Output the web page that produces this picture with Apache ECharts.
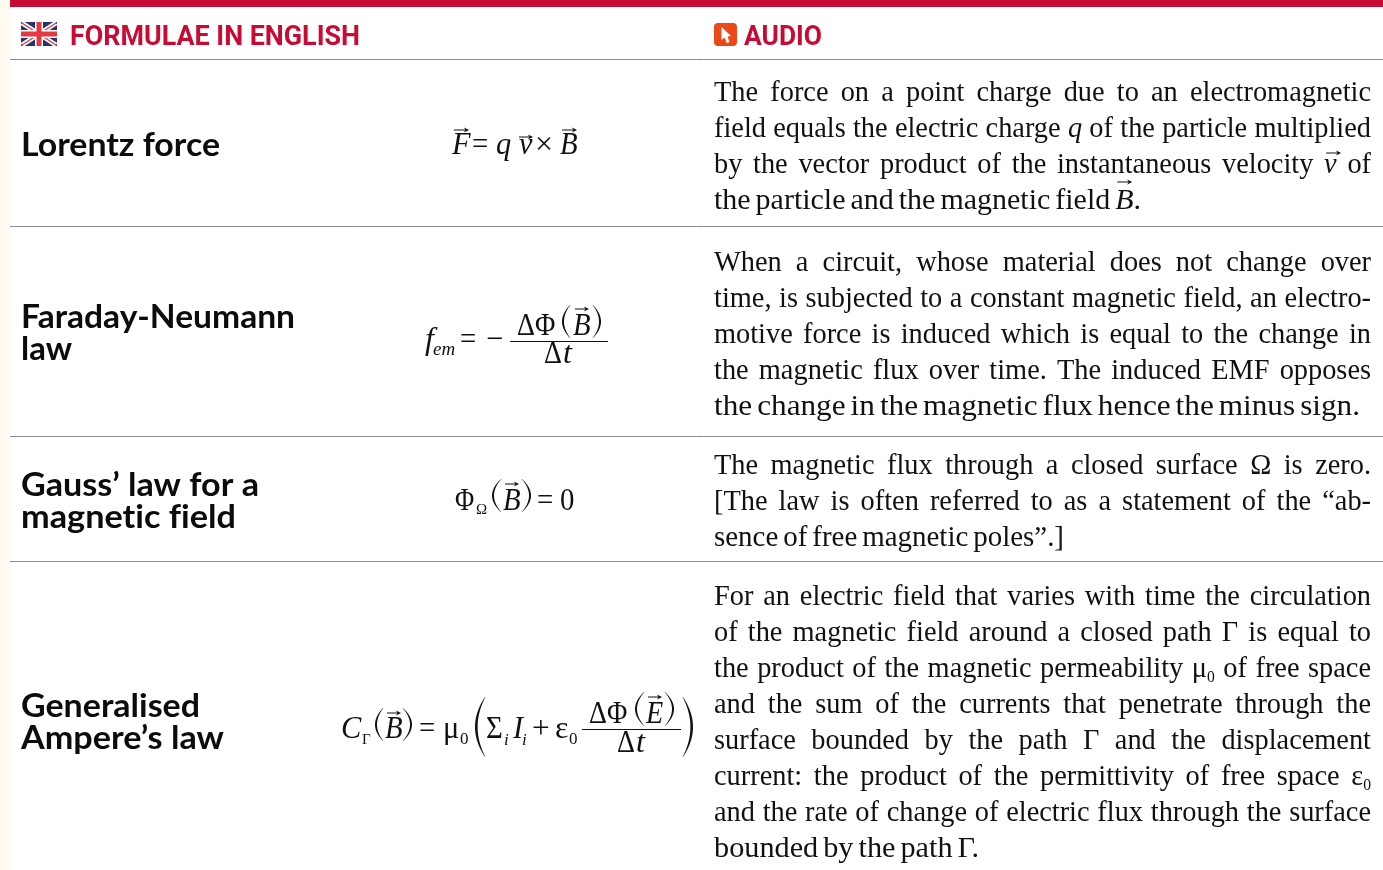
<!DOCTYPE html>
<html>
<head>
<meta charset="utf-8">
<script src="https://cdn.jsdelivr.net/npm/echarts@6/dist/echarts.min.js"></script>
<style>
  html, body { margin: 0; padding: 0; background: #fff; }
  #main { width: 1383px; height: 870px; }
</style>
</head>
<body>
<div id="main"></div>
<script>
// 表格文字
const headerLabels = ['FORMULAE IN ENGLISH', 'AUDIO']
const rowTitles = [
  ['Lorentz force'],
  ['Faraday-Neumann', 'law'],
  ['Gauss’ law for a', 'magnetic field'],
  ['Generalised', 'Ampere’s law']
]
// ^x^ 斜体带箭头, *x* 斜体, ~x~ 下标
const descriptions = [
  [
    'The force on a point charge due to an electromagnetic',
    'field equals the electric charge *q* of the particle multiplied',
    'by the vector product of the instantaneous velocity ^v^ of',
    'the particle and the magnetic field ^B^.'
  ],
  [
    'When a circuit, whose material does not change over',
    'time, is subjected to a constant magnetic field, an electro-',
    'motive force is induced which is equal to the change in',
    'the magnetic flux over time. The induced EMF opposes',
    'the change in the magnetic flux hence the minus sign.'
  ],
  [
    'The magnetic flux through a closed surface Ω is zero.',
    '[The law is often referred to as a statement of the “ab-',
    'sence of free magnetic poles”.]'
  ],
  [
    'For an electric field that varies with time the circulation',
    'of the magnetic field around a closed path Γ is equal to',
    'the product of the magnetic permeability μ~0~ of free space',
    'and the sum of the currents that penetrate through the',
    'surface bounded by the path Γ and the displacement',
    'current: the product of the permittivity of free space ε~0~',
    'and the rate of change of electric flux through the surface',
    'bounded by the path Γ.'
  ]
]

// 版面
const RED = '#c80b34'
const INK = '#111111'
const RULE = '#8c8c8c'
const SERIF = '"Liberation Serif"'
const TITLE_FONT = 'Lato'
const BODY_LEFT = 714
const BODY_RIGHT = 1371
const BODY_SIZE = 30
const ruleYs = [59.5, 226.5, 436.5, 561.5]
const titleBaselines = [[155], [327, 359], [495, 527], [716, 748]]
const titleRights = [[220], [295, 72], [259, 236], [200, 224]]
const bodyFirstBaseline = [101, 271, 474, 605]
const lastLineRights = [1141, 1360, 1064, 979]
const BASE_RATIO = { 'Liberation Serif': 0.27, Lato: 0.29, Roboto: 0.25 }

const measureCtx = document.createElement('canvas').getContext('2d')
const elements = []

function fontString(size, family, weight, italic) {
  return (italic ? 'italic ' : '') + (weight || 'normal') + ' ' + size + 'px ' + family
}
function textWidth(str, size, family, weight, italic) {
  measureCtx.font = fontString(size, family, weight, italic)
  return measureCtx.measureText(str).width
}
// 按基线放文字
function put(str, x, base, size, opt) {
  const o = opt || {}
  const family = o.family || SERIF
  const ratio = BASE_RATIO[family.replace(/"/g, '')] || 0.3
  elements.push({
    type: 'text',
    silent: true,
    x: x,
    y: base - size * ratio,
    scaleX: o.scaleX || 1,
    style: {
      text: str,
      x: 0,
      y: 0,
      fill: o.color || INK,
      fontSize: size,
      fontFamily: family,
      fontWeight: o.weight || 'normal',
      fontStyle: o.italic ? 'italic' : 'normal',
      align: 'left',
      verticalAlign: 'middle'
    }
  })
}
// 放到指定宽度
function putFit(str, x, right, base, size, opt) {
  const o = opt || {}
  const w = textWidth(str, size, o.family || SERIF, o.weight, o.italic)
  put(str, x, base, size, Object.assign({}, o, { scaleX: (right - x) / w }))
}
function rect(x, y, w, h, fill, r) {
  elements.push({ type: 'rect', silent: true, shape: { x: x, y: y, width: w, height: h, r: r || 0 }, style: { fill: fill } })
}
function line(x1, y1, x2, y2, color, width) {
  elements.push({ type: 'line', silent: true, shape: { x1: x1, y1: y1, x2: x2, y2: y2 }, style: { stroke: color, lineWidth: width } })
}
function poly(points, fill) {
  elements.push({ type: 'polygon', silent: true, shape: { points: points }, style: { fill: fill } })
}
function arrow(x, y, w) {
  line(x, y, x + w - 2, y, INK, 1)
  poly([[x + w, y], [x + w - 5, y - 2.6], [x + w - 3.5, y], [x + w - 5, y + 2.6]], INK)
}
// 新月形括号
function paren(xOuter, xInner, top, bottom, thick) {
  const pts = []
  const steps = 24
  const dir = xInner > xOuter ? 1 : -1
  for (let i = 0; i <= steps; i++) {
    const t = i / steps
    const bow = 4 * t * (1 - t)
    pts.push([xInner + (xOuter - xInner) * bow, top + (bottom - top) * t])
  }
  for (let i = steps; i >= 0; i--) {
    const t = i / steps
    const bow = 4 * t * (1 - t)
    pts.push([xInner + (xOuter - xInner) * bow + dir * (0.4 + thick * bow), top + (bottom - top) * t])
  }
  poly(pts, INK)
}

// 正文一行: 词距撑满到右边
function parseWord(word) {
  const runs = []
  const re = /\^(.+?)\^|\*(.+?)\*|~(.+?)~|([^\^*~]+)/g
  let m
  while ((m = re.exec(word))) {
    if (m[1]) runs.push({ text: m[1], italic: true, arrow: true })
    else if (m[2]) runs.push({ text: m[2], italic: true })
    else if (m[3]) runs.push({ text: m[3], sub: true })
    else runs.push({ text: m[4] })
  }
  return runs
}
function runWidth(run) {
  const size = run.sub ? BODY_SIZE * 0.55 : BODY_SIZE
  return textWidth(run.text, size, SERIF, 'normal', run.italic)
}
function bodyLine(str, base, right, isLast) {
  const words = str.split(' ').map(parseWord)
  const widths = words.map(runs => runs.reduce((s, r) => s + runWidth(r), 0))
  const total = widths.reduce((a, b) => a + b, 0)
  const span = right - BODY_LEFT
  const gaps = words.length - 1
  let k = 0.945
  let gap = (span - total * k) / gaps
  if (isLast) {
    gap = 5
    k = (span - gap * gaps) / total
  } else if (gap < 4.5) {
    gap = 4.5
    k = (span - gap * gaps) / total
  }
  let x = BODY_LEFT
  words.forEach(runs => {
    runs.forEach(run => {
      const size = run.sub ? BODY_SIZE * 0.55 : BODY_SIZE
      put(run.text, x, run.sub ? base + 5 : base, size, { italic: run.italic, scaleX: k })
      if (run.arrow) arrow(x + 2, base - 27 + (run.text === 'v' ? 7 : 0), 15)
      x += runWidth(run) * k
    })
    x += gap
  })
}

// 背景, 红条, 分隔线
rect(0, 0, 10, 870, '#fffbf0')
rect(10, 0, 1373, 7, RED)
ruleYs.forEach(y => line(10, y, 1383, y, RULE, 1))

// 英国旗
rect(21, 22, 36, 24, '#27346e')
line(22, 23, 56, 45, '#fff', 4.5)
line(56, 23, 22, 45, '#fff', 4.5)
line(22, 23, 56, 45, '#e5393f', 1.4)
line(56, 23, 22, 45, '#e5393f', 1.4)
rect(21, 30, 36, 8, '#fff')
rect(35, 22, 8, 24, '#fff')
rect(21, 31.5, 36, 5, '#e5393f')
rect(36.5, 22, 5, 24, '#e5393f')

// 表头
putFit(headerLabels[0], 70, 360, 45, 28, { family: 'Roboto', weight: 'bold', color: RED })
rect(714, 23, 23, 23, '#ea4a18', 4)
poly([[721.5, 27], [731, 36], [727.5, 36.5], [729.5, 42], [726.8, 43], [724.6, 37.6], [721.5, 40]], '#fff')
putFit(headerLabels[1], 744, 822, 45, 28, { family: 'Roboto', weight: 'bold', color: RED })

// 每行标题和说明, 标题不用连字
rowTitles.forEach((lines, r) => {
  lines.forEach((t, i) => {
    const plain = t.replace(/t(i)/g, 't\u200c$1').replace(/f(i)/g, 'f\u200c$1')
    putFit(plain, 21, titleRights[r][i], titleBaselines[r][i], 32, { family: TITLE_FONT, weight: 'bold', color: '#0c0c0c' })
  })
  const desc = descriptions[r]
  desc.forEach((t, i) => {
    const isLast = i === desc.length - 1
    const right = isLast ? lastLineRights[r] : BODY_RIGHT
    bodyLine(t, bodyFirstBaseline[r] + i * 36, right, isLast)
  })
})

// 公式 1
const F = 32
put('F', 452, 154, F, { italic: true, scaleX: 0.95 })
arrow(454, 130, 15)
put('=', 472, 154, F, { scaleX: 0.9 })
put('q', 496, 154, F, { italic: true, scaleX: 0.95 })
put('v', 519, 154, F, { italic: true, scaleX: 0.95 })
arrow(519, 137, 14)
put('×', 535, 154, F, { scaleX: 1 })
put('B', 560, 154, F, { italic: true, scaleX: 0.9 })
arrow(562, 130, 15)

// 公式 2
put('f', 425, 349, F, { italic: true })
put('em', 433, 355, 19, { italic: true })
put('=', 460, 349, F, { scaleX: 0.9 })
put('−', 486, 349, F, { scaleX: 0.95 })
line(510, 341.5, 608, 341.5, INK, 1)
put('ΔΦ', 517, 335, F, { scaleX: 0.87 })
paren(562, 570, 305, 338, 1.6)
put('B', 573, 335, F, { italic: true, scaleX: 0.9 })
arrow(575, 309, 14)
paren(601, 593, 305, 338, 1.6)
put('Δ', 544, 363, F, { scaleX: 0.87 })
put('t', 563, 363, F, { italic: true })

// 公式 3
put('Φ', 455, 510, F, { scaleX: 0.82 })
put('Ω', 476, 514, 15)
paren(492, 501, 479, 512, 1.6)
put('B', 503, 510, F, { italic: true, scaleX: 0.9 })
arrow(505, 484, 14)
paren(531, 522, 479, 512, 1.6)
put('=', 537, 510, F, { scaleX: 0.9 })
put('0', 560, 510, F, { scaleX: 0.9 })

// 公式 4
put('C', 341, 738, F, { italic: true, scaleX: 0.95 })
put('Γ', 362, 744, 15)
paren(375, 383, 708, 741, 1.6)
put('B', 385, 738, F, { italic: true, scaleX: 0.9 })
arrow(387, 713, 14)
paren(412, 403, 708, 741, 1.6)
put('=', 419, 738, F, { scaleX: 0.9 })
put('μ', 443, 738, F, { scaleX: 0.95 })
put('0', 460, 744, 17)
paren(475, 485, 697, 757, 2.2)
put('Σ', 486, 738, F, { scaleX: 0.9 })
put('i', 504, 745, 17, { italic: true })
put('I', 513, 738, F, { italic: true, scaleX: 0.95 })
put('i', 522, 745, 17, { italic: true })
put('+', 532, 738, F, { scaleX: 0.98 })
put('ε', 555, 738, F)
put('0', 569, 744, 17)
line(582, 729.5, 681, 729.5, INK, 1)
put('ΔΦ', 589, 723, F, { scaleX: 0.87 })
paren(635, 644, 692, 726, 1.6)
put('E', 646, 723, F, { italic: true, scaleX: 0.88 })
arrow(648, 697, 14)
paren(674, 665, 692, 726, 1.6)
put('Δ', 617, 752, F, { scaleX: 0.87 })
put('t', 636, 752, F, { italic: true })
paren(693, 683, 697, 757, 2.2)

const myChart = echarts.init(document.getElementById('main'), null, { renderer: 'canvas' })
myChart.setOption({
  backgroundColor: '#fff',
  animation: false,
  graphic: { elements: elements }
})
</script>
</body>
</html>
